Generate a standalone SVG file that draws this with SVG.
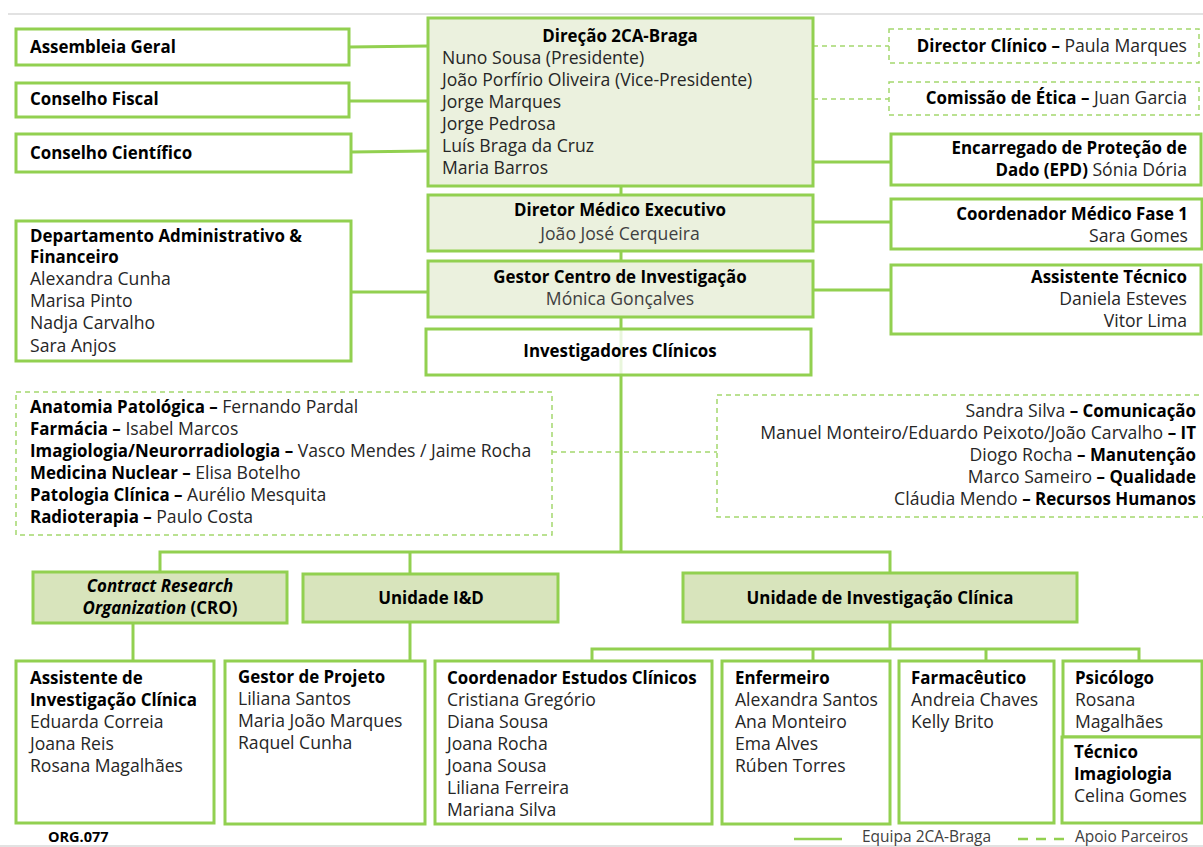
<svg xmlns="http://www.w3.org/2000/svg" width="1203" height="847" viewBox="0 0 1203 847">
<style>
text{font-family:"Open Sans","Liberation Sans",sans-serif;font-size:17.6px;fill:#262626}
.t{font-weight:700;fill:#000;font-size:16.9px}
text.t tspan{font-size:17.6px}
tspan.t{font-size:16.9px}
.i{font-style:italic}
.m{text-anchor:middle}
.r{text-anchor:end}
.b{fill:#fff;stroke:#92D050;stroke-width:3}
.f1{fill:#EBF1DE;stroke:#92D050;stroke-width:3}
.f2{fill:#D8E4BC;stroke:#92D050;stroke-width:3}
.d{fill:#fff;stroke:#A4D86E;stroke-width:1.5;stroke-dasharray:5 4}
.c{stroke:#92D050;stroke-width:3;fill:none}
.cd{stroke:#A4D86E;stroke-width:1.5;stroke-dasharray:5 4;fill:none}
.g{stroke:#D9D9D9;stroke-width:1.5}
</style>
<rect width="1203" height="847" fill="#fff"/>
<line class="g" x1="8" y1="14" x2="1203" y2="14"/>
<line class="g" x1="0" y1="846" x2="1203" y2="846"/>

<g id="connectors">
<polyline class="c" points="349,47 428,46"/>
<polyline class="c" points="349,101 428,101"/>
<polyline class="c" points="351,152 428,151"/>
<polyline class="cd" points="813,46 889,46"/>
<polyline class="cd" points="813,99 889,99"/>
<polyline class="c" points="813,162 891,162"/>
<polyline class="c" points="813,222 891,222"/>
<polyline class="c" points="813,290 891,290"/>
<polyline class="c" points="351,292 428,292"/>
<polyline class="c" points="621,186 621,195"/>
<polyline class="c" points="621,251 621,261"/>
<polyline class="c" points="621,317 621,552"/>
<polyline class="cd" points="552,452 717,452"/>
<polyline class="c" points="160,572 160,552 890,552 890,573"/>
<polyline class="c" points="410,552 410,574"/>
<polyline class="c" points="133,623 133,661"/>
<polyline class="c" points="410,622 410,661"/>
<polyline class="c" points="890,622 890,649"/>
<polyline class="c" points="592,661 592,649 1139,649 1139,661"/>
<polyline class="c" points="813,649 813,661"/>
<polyline class="c" points="986,649 986,661"/>
</g>

<g id="assembleia"><rect class="b" x="16" y="29" width="333" height="36"/><text class="t" x="30" y="53">Assembleia Geral</text></g>
<g id="fiscal"><rect class="b" x="16" y="83" width="333" height="34"/><text class="t" x="30" y="105">Conselho Fiscal</text></g>
<g id="cientifico"><rect class="b" x="16" y="134" width="335" height="38"/><text class="t" x="30" y="159">Conselho Científico</text></g>

<g id="direcao"><rect class="f1" x="428" y="18" width="385" height="168"/>
<text class="t m" x="620" y="42">Direção 2CA-Braga</text>
<text x="442" y="64">Nuno Sousa (Presidente)</text>
<text x="442" y="86">João Porfírio Oliveira (Vice-Presidente)</text>
<text x="442" y="108">Jorge Marques</text>
<text x="442" y="130">Jorge Pedrosa</text>
<text x="442" y="152">Luís Braga da Cruz</text>
<text x="442" y="174">Maria Barros</text></g>

<g id="diretor-clinico"><rect class="d" x="889" y="29" width="310" height="34"/><text class="r" x="1187" y="52"><tspan class="t">Director Clínico –</tspan> Paula Marques</text></g>
<g id="etica"><rect class="d" x="889" y="82" width="310" height="33"/><text class="r" x="1187" y="104"><tspan class="t">Comissão de Ética –</tspan> Juan Garcia</text></g>
<g id="epd"><rect class="b" x="891" y="134" width="310" height="51"/>
<text class="t r" x="1187" y="154">Encarregado de Proteção de</text>
<text class="r" x="1187" y="176"><tspan class="t">Dado (EPD)</tspan> Sónia Dória</text></g>

<g id="diretor-medico"><rect class="f1" x="428" y="195" width="385" height="56"/>
<text class="t m" x="620" y="216">Diretor Médico Executivo</text>
<text class="m" x="620" y="240" style="fill:#404040">João José Cerqueira</text></g>
<g id="coord-fase1"><rect class="b" x="891" y="199" width="311" height="50"/>
<text class="t r" x="1188" y="220">Coordenador Médico Fase 1</text>
<text class="r" x="1188" y="242">Sara Gomes</text></g>

<g id="gestor-centro"><rect class="f1" x="428" y="261" width="385" height="56"/>
<text class="t m" x="620" y="283">Gestor Centro de Investigação</text>
<text class="m" x="620" y="305" style="fill:#404040">Mónica Gonçalves</text></g>
<g id="assistente-tecnico"><rect class="b" x="891" y="265" width="310" height="69"/>
<text class="t r" x="1187" y="283">Assistente Técnico</text>
<text class="r" x="1187" y="305">Daniela Esteves</text>
<text class="r" x="1187" y="327">Vitor Lima</text></g>

<g id="dept-admin"><rect class="b" x="16" y="221" width="335" height="140"/>
<text class="t" x="30" y="242">Departamento Administrativo &amp;</text>
<text class="t" x="30" y="263">Financeiro</text>
<text x="30" y="285">Alexandra Cunha</text>
<text x="30" y="307">Marisa Pinto</text>
<text x="30" y="329">Nadja Carvalho</text>
<text x="30" y="352">Sara Anjos</text></g>

<g id="investigadores"><rect class="b" x="426" y="329" width="385" height="46" style="fill-opacity:0.8"/>
<text class="t m" x="620" y="357">Investigadores Clínicos</text></g>

<g id="servicos"><rect class="d" x="16" y="392" width="536" height="143"/>
<text x="30" y="413"><tspan class="t">Anatomia Patológica –</tspan> Fernando Pardal</text>
<text x="30" y="435"><tspan class="t">Farmácia –</tspan> Isabel Marcos</text>
<text x="30" y="457"><tspan class="t">Imagiologia/Neurorradiologia –</tspan> Vasco Mendes / Jaime Rocha</text>
<text x="30" y="479"><tspan class="t">Medicina Nuclear –</tspan> Elisa Botelho</text>
<text x="30" y="501"><tspan class="t">Patologia Clínica –</tspan> Aurélio Mesquita</text>
<text x="30" y="523"><tspan class="t">Radioterapia –</tspan> Paulo Costa</text></g>

<g id="apoio"><rect class="d" x="717" y="395" width="490" height="122"/>
<text class="r" x="1196" y="417">Sandra Silva <tspan class="t">– Comunicação</tspan></text>
<text class="r" x="1196" y="439">Manuel Monteiro/Eduardo Peixoto/João Carvalho <tspan class="t">– IT</tspan></text>
<text class="r" x="1196" y="461">Diogo Rocha <tspan class="t">– Manutenção</tspan></text>
<text class="r" x="1196" y="483">Marco Sameiro <tspan class="t">– Qualidade</tspan></text>
<text class="r" x="1196" y="505">Cláudia Mendo <tspan class="t">– Recursos Humanos</tspan></text></g>

<g id="cro"><rect class="f2" x="33" y="572" width="254" height="51"/>
<text class="t i m" x="160" y="592">Contract Research</text>
<text class="t m" x="160" y="614"><tspan class="i" style="font-size:16.9px">Organization</tspan><tspan style="font-size:16.9px"> (CRO)</tspan></text></g>
<g id="unidade-id"><rect class="f2" x="303" y="574" width="255" height="48"/>
<text class="t m" x="431" y="604">Unidade I&amp;D</text></g>
<g id="uic"><rect class="f2" x="683" y="573" width="394" height="49"/>
<text class="t m" x="880" y="604">Unidade de Investigação Clínica</text></g>

<g id="assistente-ic"><rect class="b" x="16" y="661" width="198" height="162"/>
<text class="t" x="30" y="684">Assistente de</text>
<text class="t" x="30" y="706">Investigação Clínica</text>
<text x="30" y="728">Eduarda Correia</text>
<text x="30" y="750">Joana Reis</text>
<text x="30" y="772">Rosana Magalhães</text></g>
<g id="gestor-projeto"><rect class="b" x="225" y="661" width="200" height="163"/>
<text class="t" x="238" y="683">Gestor de Projeto</text>
<text x="238" y="705">Liliana Santos</text>
<text x="238" y="727">Maria João Marques</text>
<text x="238" y="749">Raquel Cunha</text></g>
<g id="coord-estudos"><rect class="b" x="435" y="661" width="277" height="163"/>
<text class="t" x="447" y="684">Coordenador Estudos Clínicos</text>
<text x="447" y="706">Cristiana Gregório</text>
<text x="447" y="728">Diana Sousa</text>
<text x="447" y="750">Joana Rocha</text>
<text x="447" y="772">Joana Sousa</text>
<text x="447" y="794">Liliana Ferreira</text>
<text x="447" y="816">Mariana Silva</text></g>
<g id="enfermeiro"><rect class="b" x="722" y="661" width="168" height="163"/>
<text class="t" x="735" y="684">Enfermeiro</text>
<text x="735" y="706">Alexandra Santos</text>
<text x="735" y="728">Ana Monteiro</text>
<text x="735" y="750">Ema Alves</text>
<text x="735" y="772">Rúben Torres</text></g>
<g id="farmaceutico"><rect class="b" x="899" y="661" width="155" height="162"/>
<text class="t" x="911" y="684">Farmacêutico</text>
<text x="911" y="706">Andreia Chaves</text>
<text x="911" y="728">Kelly Brito</text></g>
<g id="psicologo"><rect class="b" x="1063" y="661" width="139" height="76"/>
<text class="t" x="1075" y="684">Psicólogo</text>
<text x="1075" y="706">Rosana</text>
<text x="1075" y="728">Magalhães</text></g>
<g id="tecnico-imagiologia"><rect class="b" x="1062" y="737" width="140" height="86"/>
<text class="t" x="1074" y="758">Técnico</text>
<text class="t" x="1074" y="780">Imagiologia</text>
<text x="1074" y="802">Celina Gomes</text></g>

<g id="legend">
<text class="t" x="48" y="842" style="font-size:14.5px">ORG.077</text>
<line class="c" x1="794" y1="839" x2="842" y2="839" style="stroke-width:2.5"/>
<text x="862" y="842" style="font-size:15.5px;fill:#404040">Equipa 2CA-Braga</text>
<line x1="1018" y1="839" x2="1066" y2="839" style="stroke:#92D050;stroke-width:2.5;stroke-dasharray:10 8"/>
<text x="1075" y="842" style="font-size:15.5px;fill:#404040">Apoio Parceiros</text>
</g>
</svg>
